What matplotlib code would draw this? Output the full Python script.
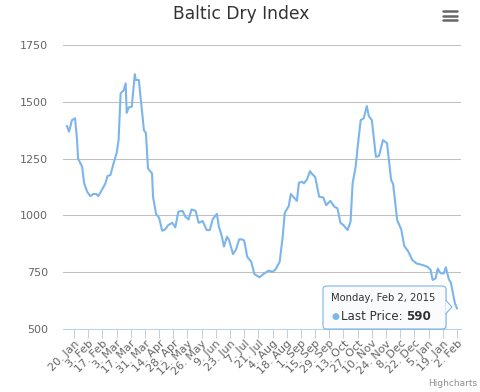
import matplotlib
matplotlib.use("Agg")
import matplotlib.pyplot as plt
from matplotlib.patches import FancyBboxPatch, Polygon
import pandas as pd

# Baltic Dry Index
dates = [
    "2014-01-13", "2014-01-15", "2014-01-18", "2014-01-21", "2014-01-23", "2014-01-24",
    "2014-01-28", "2014-01-30", "2014-02-02", "2014-02-05", "2014-02-08", "2014-02-11",
    "2014-02-13", "2014-02-16", "2014-02-20", "2014-02-22", "2014-02-25", "2014-02-28",
    "2014-03-03", "2014-03-05", "2014-03-07", "2014-03-10", "2014-03-12", "2014-03-13",
    "2014-03-15", "2014-03-18", "2014-03-21", "2014-03-22", "2014-03-25", "2014-03-27",
    "2014-03-30", "2014-04-01", "2014-04-03", "2014-04-07", "2014-04-08", "2014-04-11",
    "2014-04-14", "2014-04-17", "2014-04-20", "2014-04-23", "2014-04-27", "2014-04-30",
    "2014-05-03", "2014-05-07", "2014-05-10", "2014-05-13", "2014-05-16", "2014-05-20",
    "2014-05-23", "2014-05-27", "2014-05-31", "2014-06-03", "2014-06-06", "2014-06-10",
    "2014-06-12", "2014-06-15", "2014-06-17", "2014-06-20", "2014-06-22", "2014-06-26",
    "2014-06-29", "2014-07-02", "2014-07-05", "2014-07-07", "2014-07-10", "2014-07-14",
    "2014-07-17", "2014-07-22", "2014-07-26", "2014-07-31", "2014-08-04", "2014-08-07",
    "2014-08-11", "2014-08-14", "2014-08-16", "2014-08-20", "2014-08-22", "2014-08-28",
    "2014-08-30", "2014-09-02", "2014-09-04", "2014-09-07", "2014-09-10", "2014-09-12",
    "2014-09-15", "2014-09-19", "2014-09-23", "2014-09-26", "2014-09-30", "2014-10-04",
    "2014-10-07", "2014-10-10", "2014-10-13", "2014-10-17", "2014-10-20", "2014-10-22",
    "2014-10-25", "2014-10-27", "2014-10-30", "2014-11-02", "2014-11-05", "2014-11-07",
    "2014-11-10", "2014-11-14", "2014-11-17", "2014-11-21", "2014-11-25", "2014-11-29",
    "2014-12-01", "2014-12-05", "2014-12-09", "2014-12-12", "2014-12-16", "2014-12-20",
    "2014-12-24", "2014-12-30", "2015-01-04", "2015-01-07", "2015-01-09", "2015-01-12",
    "2015-01-14", "2015-01-17", "2015-01-20", "2015-01-22", "2015-01-25", "2015-01-27",
    "2015-01-31", "2015-02-02",
]
prices = [
    1394, 1369, 1420, 1428, 1332, 1251,
    1214, 1141, 1104, 1085, 1094, 1094,
    1085, 1108, 1141, 1173, 1178, 1229,
    1273, 1332, 1538, 1552, 1582, 1452,
    1476, 1479, 1622, 1597, 1597, 1508,
    1376, 1362, 1207, 1185, 1082, 1006,
    989, 932, 938, 957, 967, 947,
    1016, 1020, 994, 982, 1026, 1020,
    967, 975, 935, 935, 984, 1006,
    950, 906, 862, 906, 891, 829,
    850, 894, 894, 888, 817, 795,
    741, 727, 741, 756, 751, 762,
    795, 906, 1011, 1041, 1094, 1064,
    1144, 1148, 1141, 1159, 1195, 1182,
    1170, 1082, 1079, 1045, 1064, 1038,
    1031, 967, 957, 935, 972, 1141,
    1214, 1302, 1420, 1428, 1482, 1438,
    1420, 1258, 1262, 1332, 1318, 1156,
    1138, 979, 938, 865, 840, 803,
    788, 781, 773, 759, 715, 722,
    765, 744, 744, 771, 718, 703,
    612, 590,
]
y_ticks = [500, 750, 1000, 1250, 1500, 1750]
tick_dates = pd.date_range("2014-01-20", "2015-02-02", freq="14D")

W, H = 480, 392


def px(x, y):
    return x / W, 1 - y / H


fig = plt.figure(figsize=(W / 100, H / 100), dpi=100)
ax = fig.add_axes([63 / W, 1 - 328.7 / H, 398 / W, (328.7 - 45.3) / H])

x = pd.to_datetime(dates)
ax.plot(x, prices, color="#7cb5ec", lw=1.5, solid_joinstyle="round")

ax.set_xlim(pd.Timestamp("2014-01-09 03:00"), pd.Timestamp("2015-02-06"))
ax.set_ylim(500, 1750)

ax.set_yticks(y_ticks)
ax.set_yticklabels([str(v) for v in y_ticks])
ax.grid(axis="y", color="#c0c0c0", lw=0.75)
ax.set_axisbelow(True)
ax.tick_params(axis="y", length=0, pad=11, labelsize=8, labelcolor="#666666")

ax.set_xticks(tick_dates)
ax.set_xticklabels([f"{d.day}. {d.strftime('%b')}" for d in tick_dates],
                   rotation=45, ha="right", va="top", rotation_mode="anchor")
ax.tick_params(axis="x", length=6.5, width=0.75, color="#c0d0e0", pad=0.5,
               labelsize=8, labelcolor="#666666")

for s in ["top", "right", "left"]:
    ax.spines[s].set_visible(False)
ax.spines["bottom"].set_color("#c0d0e0")
ax.spines["bottom"].set_linewidth(0.75)

fig.text(*px(241, 14), "Baltic Dry Index", ha="center", va="center",
         fontsize=12.3, color="#333333")

# export menu icon
for yy in [11.2, 16.2, 20.4]:
    fig.add_artist(plt.Line2D([443 / W, 457 / W], [1 - yy / H] * 2, lw=1.8,
                              color="#666666", solid_capstyle="round"))

fig.text(*px(477, 384), "Highcharts", ha="right", va="center",
         fontsize=6.5, color="#909090")

# tooltip for the last point
bx0, by0, bx1, by1 = 323, 286, 446, 329
shadow = FancyBboxPatch(px(bx0 + 1, by1 + 1), (bx1 - bx0) / W, (by1 - by0) / H,
                        boxstyle="round,pad=0,rounding_size=0.008",
                        transform=fig.transFigure, facecolor="#000000",
                        alpha=0.08, edgecolor="none", zorder=9)
fig.add_artist(shadow)
box = FancyBboxPatch(px(bx0, by1), (bx1 - bx0) / W, (by1 - by0) / H,
                     boxstyle="round,pad=0,rounding_size=0.008",
                     transform=fig.transFigure, facecolor="#f9fbfd",
                     edgecolor="#7cb5ec", lw=0.8, zorder=10)
fig.add_artist(box)
tri = Polygon([px(bx1 - 0.5, 300), px(452, 307), px(bx1 - 0.5, 314)],
              closed=False, transform=fig.transFigure, facecolor="#f9fbfd",
              edgecolor="#7cb5ec", lw=0.8, zorder=11)
fig.add_artist(tri)

last = pd.Timestamp(dates[-1])
fig.text(*px(331, 298), f"{last.strftime('%A, %b')} {last.day}, {last.year}",
         ha="left", va="center", fontsize=7.2, color="#333333", zorder=12)
fig.text(*px(331, 316), "\u25cf", ha="left", va="center", fontsize=6.5,
         color="#7cb5ec", zorder=12)
fig.text(*px(341, 316), "Last Price:", ha="left", va="center", fontsize=8.6,
         color="#333333", zorder=12)
fig.text(*px(431, 316), str(prices[-1]), ha="right", va="center", fontsize=8.6,
         color="#333333", fontweight="bold", zorder=12)

fig.savefig("out.png", dpi=100)
